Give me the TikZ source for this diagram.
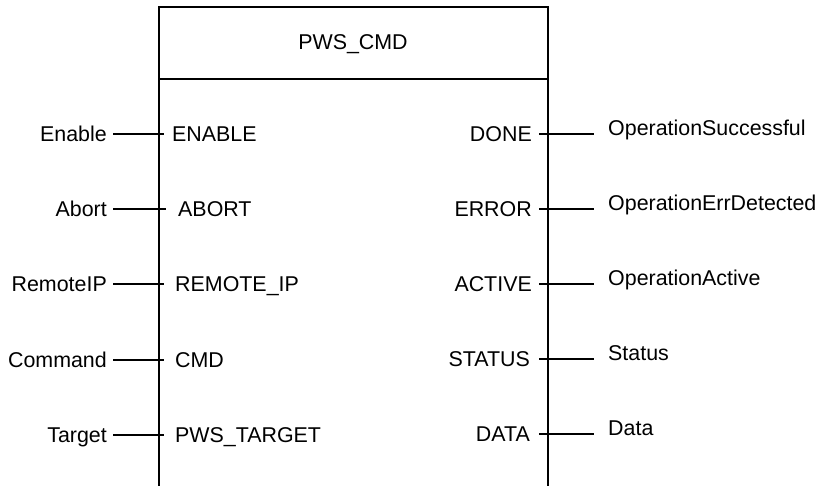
\documentclass[tikz,border=0pt]{standalone}
\usepackage{fontspec}
\setmainfont{Liberation Sans}
\usetikzlibrary{positioning}

\begin{document}
\begin{tikzpicture}[x=1pt, y=-1pt,
    lbl/.style={font=\fontsize{21.4}{25}\selectfont, inner sep=0pt, text height=15pt, text depth=0pt},
    inlbl/.style={lbl, anchor=east},
    outlbl/.style={lbl, anchor=west},
    box/.style={line width=1.9pt},
    link/.style={line width=1.4pt},
]
\useasboundingbox (0,0) rectangle (818,486);

% function block, open at the bottom
\draw[box] (159,486) -- (159,7) -- (548,7) -- (548,486);
\draw[box] (159,79) -- (548,79);
\node[lbl] (title) at (353,42) {PWS\_CMD};

% inputs
\node[inlbl] (enable) at (107,134) {Enable};
\node[inlbl] (abort) at (107,209) {Abort};
\node[inlbl] (remoteip) at (107,284) {RemoteIP};
\node[inlbl] (command) at (107,360) {Command};
\node[inlbl] (target) at (107,435) {Target};

\node[outlbl] (ENABLE) at (172,134) {ENABLE};
\node[outlbl] (ABORT) at (178,209) {ABORT};
\node[outlbl] (REMOTE) at (175,284) {REMOTE\_IP};
\node[outlbl] (CMD) at (175,360) {CMD};
\node[outlbl] (TARGET) at (175,435) {PWS\_TARGET};

\coordinate (p1) at (164,134);
\coordinate (p2) at (166,209);
\coordinate (p3) at (164,284);
\coordinate (p4) at (164,360);
\coordinate (p5) at (164,435);

\draw[link, shorten <=6pt] (enable.east) -- (p1);
\draw[link, shorten <=6pt] (abort.east) -- (p2);
\draw[link, shorten <=6pt] (remoteip.east) -- (p3);
\draw[link, shorten <=6pt] (command.east) -- (p4);
\draw[link, shorten <=6pt] (target.east) -- (p5);

% outputs
\node[inlbl] (DONE) at (532,134) {DONE};
\node[inlbl] (ERROR) at (532,209) {ERROR};
\node[inlbl] (ACTIVE) at (532,284) {ACTIVE};
\node[inlbl] (STATUS) at (530,359) {STATUS};
\node[inlbl] (DATA) at (530,434) {DATA};

\node[outlbl] (success) at (608,128) {OperationSuccessful};
\node[outlbl] (errdet) at (608,203) {OperationErrDetected};
\node[outlbl] (opactive) at (608,278) {OperationActive};
\node[outlbl] (status) at (608,353) {Status};
\node[outlbl] (data) at (608,428) {Data};

\coordinate (q1) at (594,134);
\coordinate (q2) at (594,209);
\coordinate (q3) at (594,284);
\coordinate (q4) at (594,359);
\coordinate (q5) at (594,434);

\draw[link, shorten <=7pt] (DONE.east) -- (q1);
\draw[link, shorten <=7pt] (ERROR.east) -- (q2);
\draw[link, shorten <=7pt] (ACTIVE.east) -- (q3);
\draw[link, shorten <=9pt] (STATUS.east) -- (q4);
\draw[link, shorten <=9pt] (DATA.east) -- (q5);
\end{tikzpicture}
\end{document}
